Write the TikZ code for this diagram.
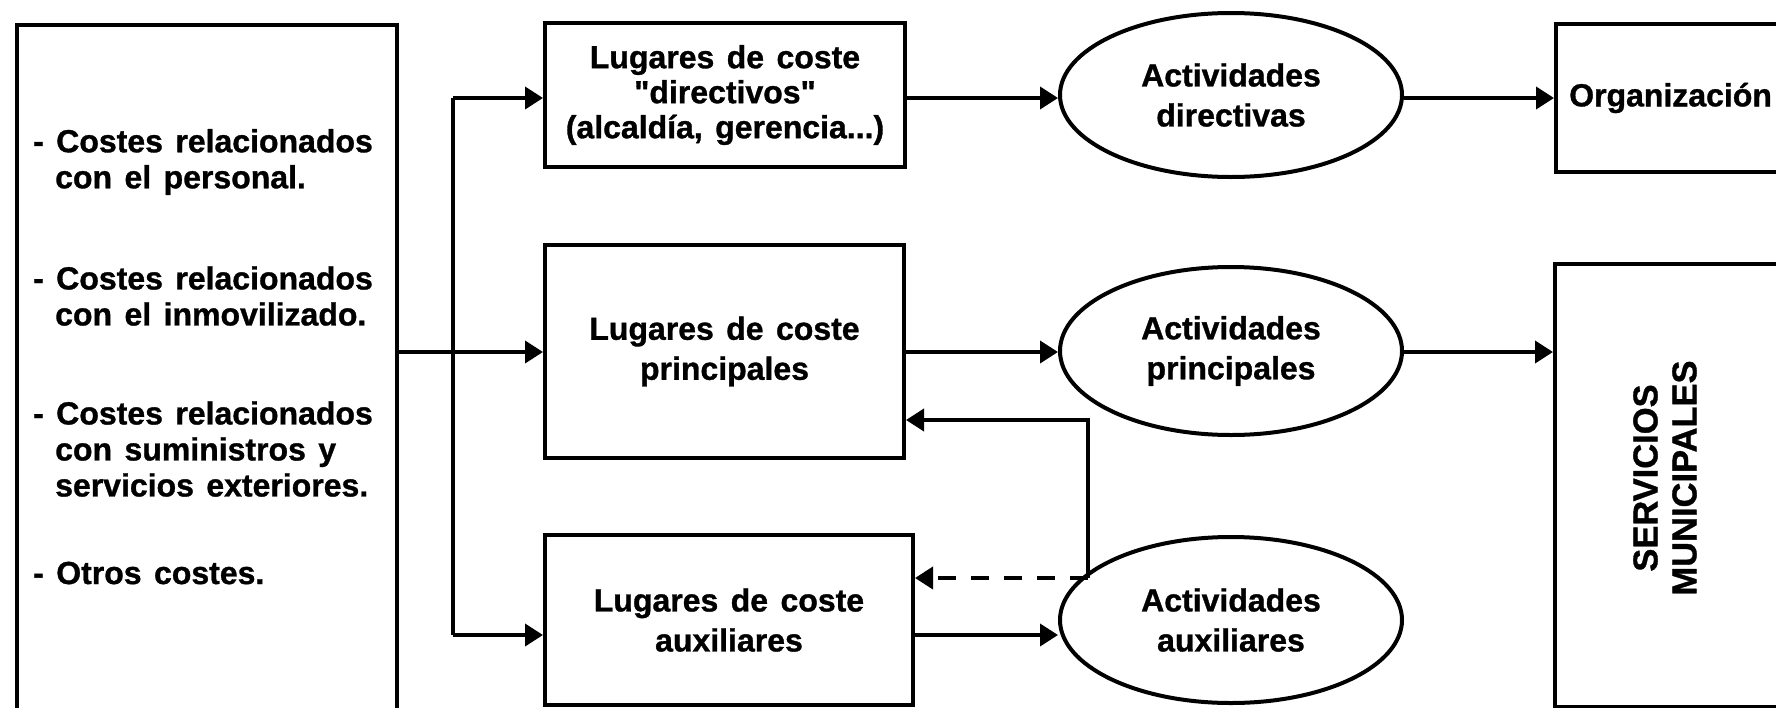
\documentclass[tikz,border=0pt]{standalone}
\usepackage{fontspec}
\setmainfont{Liberation Sans}[Ligatures=TeXOff,WordSpace=1.4,BoldFeatures={FakeBold=1}]
\usetikzlibrary{arrows.meta,shapes.geometric}
\newcommand\dtxt{\fontsize{32}{36}\selectfont\bfseries}
\newcommand\dtxtb{\fontsize{32}{35}\selectfont\bfseries}
\newcommand\dtxtc{\fontsize{34.5}{39}\selectfont\bfseries}
\begin{document}
\begin{tikzpicture}[x=1pt,y=-1pt,
  box/.style={draw,line width=4pt,rectangle,inner sep=0pt,align=center,font=\dtxt},
  oval/.style={draw,line width=4pt,ellipse,inner sep=0pt,align=center,font=\dtxt},
  ln/.style={line width=3.8pt},
  arr/.style={line width=3.8pt,-{Triangle[length=18pt,width=22pt]}},
  dsh/.style={dash pattern=on 18pt off 15pt},
  item/.style={font=\dtxt,align=left,anchor=west,inner sep=0pt}]
\path[use as bounding box] (0,0) rectangle (1776,707);
% left box
\node[box,anchor=north west,minimum width=380pt,minimum height=760pt] (L) at (15,23) {};
\node[item] (i1) at (33,162) {- Costes relacionados\\\hspace*{22pt}con el personal.};
\node[item] (i2) at (33,296) {- Costes relacionados\\\hspace*{22pt}con el inmovilizado.};
\node[item] (i3) at (33,449) {- Costes relacionados\\\hspace*{22pt}con suministros y\\\hspace*{22pt}servicios exteriores.};
\node[item] (i4) at (33,573) {- Otros costes.};
% cost places
\node[box,font=\dtxtb,minimum width=360pt,minimum height=144pt] (b1) at (725,95) {Lugares de coste\\"directivos"\\(alcaldía, gerencia...)};
\node[box,minimum width=359pt,minimum height=213pt] (b2) at (724.5,351.5) {Lugares de coste\\[4pt]principales};
\node[box,minimum width=368pt,minimum height=170pt] (b3) at (729,620) {Lugares de coste\\[4pt]auxiliares};
% activities
\node[oval,minimum width=342pt,minimum height=164pt] (e1) at (1231,95) {Actividades\\[4pt]directivas};
\node[oval,minimum width=342pt,minimum height=168pt] (e2) at (1231,351) {Actividades\\[4pt]principales};
\node[oval,minimum width=342pt,minimum height=166pt] (e3) at (1231,620) {Actividades\\[4pt]auxiliares};
% right boxes
\node[box,anchor=north west,minimum width=260pt,minimum height=148pt] (org) at (1554,22) {};
\node[item] (orgt) at (1569,98) {Organización};
\node[box,anchor=north west,minimum width=260pt,minimum height=443pt] (serv) at (1553,262) {};
\node[font=\dtxtc,align=center,rotate=90,inner sep=0pt] (servt) at (1665,478) {SERVICIOS\\MUNICIPALES};
% trunk
\coordinate (j0) at (453,352);
\coordinate (j1) at (453,98);
\coordinate (j3) at (453,635);
\draw[ln] (L.east |- j0) -- (j0);
\draw[ln] (j1) -- (j3);
\draw[arr] (j1) -- (j1 -| b1.west);
\draw[arr] (j0) -- (j0 -| b2.west);
\draw[arr] (j3) -- (j3 -| b3.west);
% rows
\draw[arr] (b1.east |- j1) -- (e1.west |- j1);
\draw[arr] (b2.east |- j0) -- (e2.west |- j0);
\draw[arr] (b3.east |- j3) -- (e3.west |- j3);
\draw[arr] (e1.east |- j1) -- (org.west |- j1);
\draw[arr] (e2.east |- j0) -- (serv.west |- j0);
% feedback
\coordinate (fb) at (1088,578);
\coordinate (fbt) at (1088,420);
\draw[arr] (fb) -- (fbt) -- (fbt -| b2.east);
\draw[arr,dsh] (fb) -- (fb -| b3.east);
\end{tikzpicture}
\end{document}
